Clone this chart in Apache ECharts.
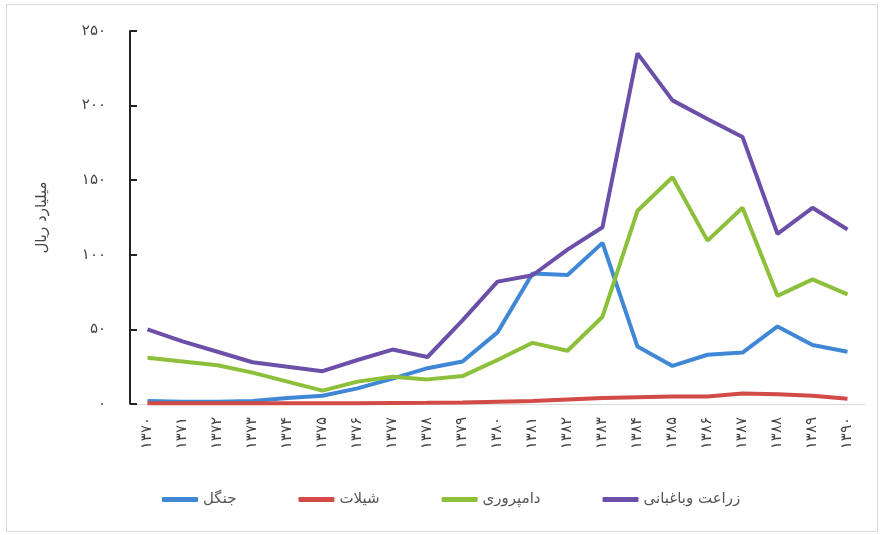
<!DOCTYPE html>
<html><head><meta charset="utf-8">
<script src="https://cdn.jsdelivr.net/npm/echarts@6/dist/echarts.min.js"></script>
<style>html,body{margin:0;padding:0;background:#fff}#c{width:880px;height:535px}</style>
</head><body><div id="c"></div>
<script>
const years = ['۱۳۷۰','۱۳۷۱','۱۳۷۲','۱۳۷۳','۱۳۷۴','۱۳۷۵','۱۳۷۶','۱۳۷۷','۱۳۷۸','۱۳۷۹','۱۳۸۰','۱۳۸۱','۱۳۸۲','۱۳۸۳','۱۳۸۴','۱۳۸۵','۱۳۸۶','۱۳۸۷','۱۳۸۸','۱۳۸۹','۱۳۹۰'];
const forest    = [2, 1.5, 1.5, 2, 4, 5.5, 10.5, 17, 24, 28.5, 48, 87.5, 86.5, 108, 38.5, 25.5, 33, 34.5, 52, 39.5, 35];
const fishery   = [0.5, 0.5, 0.5, 0.5, 0.5, 0.5, 0.5, 0.7, 0.8, 1, 1.5, 2, 3, 4, 4.5, 5, 5, 7, 6.5, 5.5, 3.5];
const livestock = [31, 28.5, 26, 21, 15, 9, 15, 18.3, 16.5, 18.7, 29.5, 41, 35.7, 58.5, 129.5, 152, 109.5, 131.5, 72.5, 83.5, 73.5];
const farming   = [50, 42, 35, 28, 25, 22, 29.5, 36.5, 31.5, 56, 82, 86.3, 103.5, 118.5, 235, 203.5, 191, 179, 114, 131.5, 117];
const yTicks = {0:'۰',50:'۵۰',100:'۱۰۰',150:'۱۵۰',200:'۲۰۰',250:'۲۵۰'};
const names = ['جنگل','شیلات','دامپروری','زراعت وباغبانی'];
const colors = ['#4088d6','#d24b46','#8cbf3a','#6b4fa8'];
const datasets = [forest, fishery, livestock, farming];

const chart = echarts.init(document.getElementById('c'));
const FF = 'DejaVu Sans';
chart.setOption({
  animation:false,
  backgroundColor:'#fff',
  textStyle:{fontFamily:FF},
  graphic:[{type:'rect',shape:{x:6.5,y:4.5,width:871,height:527},style:{fill:'none',stroke:'#d9d9d9',lineWidth:1},silent:true}],
  grid:{left:130,right:15,top:31,bottom:131,containLabel:false},
  legend:{
    top:487,left:157,itemGap:62,itemWidth:36,itemHeight:5,icon:'roundRect',
    textStyle:{fontFamily:FF,fontSize:15,color:'#555'},
    data:names
  },
  xAxis:{
    type:'category',data:years,boundaryGap:true,
    axisLine:{show:true,lineStyle:{color:'#d9d9d9',width:1}},
    axisTick:{show:false},
    axisLabel:{rotate:90,fontFamily:FF,fontSize:15,color:'#444',margin:13,interval:0}
  },
  yAxis:{
    type:'value',min:0,max:250,interval:50,
    name:'میلیارد ریال',nameLocation:'middle',nameRotate:90,nameGap:80,
    nameTextStyle:{fontFamily:FF,fontSize:15,color:'#444'},
    axisLine:{show:true,lineStyle:{color:'#222',width:2}},
    axisTick:{show:true,inside:true,length:7,lineStyle:{color:'#222',width:2}},
    splitLine:{show:false},
    axisLabel:{fontFamily:FF,fontSize:15,color:'#444',margin:24,formatter:v=>yTicks[v]}
  },
  series: datasets.map((d,i)=>({
    name:names[i],type:'line',data:d,showSymbol:false,symbol:'none',
    lineStyle:{color:colors[i],width:4},itemStyle:{color:colors[i]},
    z:2+i
  }))
});
</script></body></html>
